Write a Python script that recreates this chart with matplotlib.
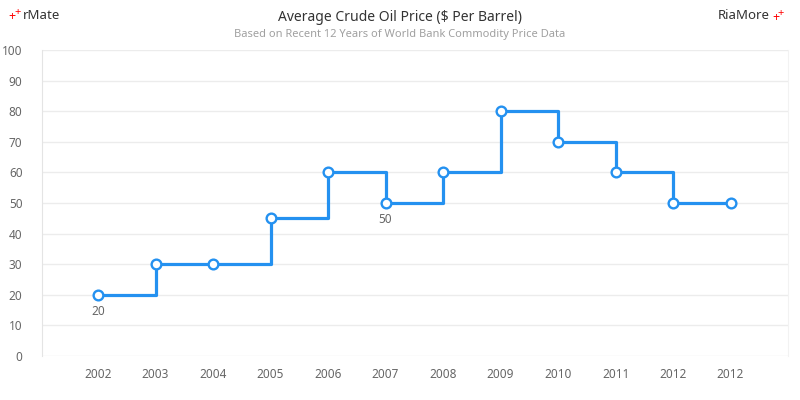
import matplotlib
matplotlib.use('Agg')
import matplotlib.pyplot as plt

plt.rcParams['font.family'] = ['Noto Sans', 'DejaVu Sans']

years = ['2002', '2003', '2004', '2005', '2006', '2007',
         '2008', '2009', '2010', '2011', '2012', '2012']
prices = [20, 30, 30, 45, 60, 50, 60, 80, 70, 60, 50, 50]
labelled = [0, 5]  # points that carry a value label

blue = '#2491f0'
grid = '#ececec'
text_grey = '#666666'

fig = plt.figure(figsize=(8, 4), dpi=100)
ax = fig.add_axes([0.0525, 0.11, 0.9325, 0.765])

x = list(range(len(years)))
ax.plot(x, prices, drawstyle='steps-post', color=blue, lw=2.3, zorder=2)
ax.plot(x, prices, 'o', ms=7, mfc='white', mec=blue, mew=1.7, zorder=3)

for i in labelled:
    ax.annotate(str(prices[i]), (x[i], prices[i]), xytext=(0, -7),
                textcoords='offset points', ha='center', va='top',
                fontsize=8.5, color=text_grey)

ax.set_xlim(-0.975, 12.0)
ax.set_ylim(0, 100)
ax.set_yticks(range(0, 101, 10))
ax.set_xticks(x)
ax.set_xticklabels(years)
ax.tick_params(length=0, labelsize=8.5, colors=text_grey)
ax.tick_params(axis='x', pad=8.5)
ax.tick_params(axis='y', pad=14)
for lab in ax.get_yticklabels():
    lab.set_horizontalalignment('right')
ax.grid(axis='y', color=grid, lw=1)
ax.set_axisbelow(True)
for side in ['top', 'bottom']:
    ax.spines[side].set_visible(False)
ax.spines['left'].set_color('#e4e4e4')
ax.spines['right'].set_color('#f2f2f2')

fig.text(0.5, 0.957, 'Average Crude Oil Price ($ Per Barrel)', ha='center',
         va='center', fontsize=10, color='#333333')
fig.text(0.5, 0.914, 'Based on Recent 12 Years of World Bank Commodity Price Data',
         ha='center', va='center', fontsize=8, color='#a0a0a0')

fig.text(0.011, 0.958, '+', color='red', fontsize=9, ha='left', va='center')
fig.text(0.018, 0.968, '+', color='red', fontsize=8, ha='left', va='center')
fig.text(0.028, 0.962, 'rMate', color='#333333', fontsize=9.5, ha='left', va='center')
fig.text(0.962, 0.962, 'RiaMore', color='#333333', fontsize=9.5, ha='right', va='center')
fig.text(0.965, 0.956, '+', color='red', fontsize=9, ha='left', va='center')
fig.text(0.972, 0.966, '+', color='red', fontsize=8, ha='left', va='center')

fig.savefig('out.png', dpi=100)
